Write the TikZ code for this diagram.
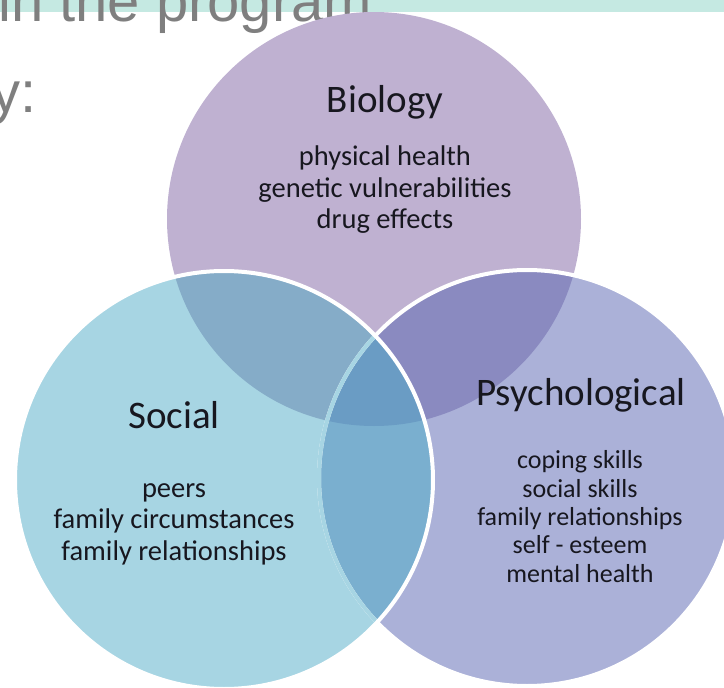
\documentclass[tikz,border=0pt]{standalone}
\usepackage{fontspec}
\setmainfont{Carlito}
\newfontfamily\slidefont{Liberation Sans}
\definecolor{bio}{HTML}{BFB1D1}
\definecolor{soc}{HTML}{A7D5E3}
\definecolor{psy}{HTML}{ABB1D8}
\definecolor{bs}{HTML}{85ACC8}
\definecolor{bp}{HTML}{8A8AC0}
\definecolor{sp}{HTML}{7AAFCF}
\definecolor{bsp}{HTML}{6A9CC4}
\definecolor{bar}{HTML}{C5E9E2}
\definecolor{slidegray}{HTML}{7F7F7F}
\definecolor{txt}{HTML}{17171F}
\begin{document}
\begin{tikzpicture}[x=1pt,y=-1pt,
  titletext/.style={anchor=base, inner sep=0pt, text=txt, font=\fontsize{39}{39}\selectfont},
  bodytext/.style={anchor=base, inner sep=0pt, text=txt, font=\fontsize{28.5}{28.5}\selectfont},
  psytext/.style={anchor=base, inner sep=0pt, text=txt, font=\fontsize{26}{26}\selectfont},
  slidetext/.style={inner sep=0pt, text=slidegray, font=\slidefont\fontsize{58}{58}\selectfont},
  rim/.style={draw=white, line width=4pt}]
\useasboundingbox (0,0) rectangle (724,688);
\fill[white] (0,0) rectangle (724,688);
% top bar
\fill[bar] (0,0) rectangle (724,12);
% slide text
\node[slidetext, anchor=base west] (line1) at (-2,21) {in the program};
\node[slidetext, anchor=base east] (line2) at (37,112) {y:};
% centres
\coordinate (B) at (374,219);
\coordinate (S) at (224,480);
\coordinate (P) at (527,478);
\def\rB{207pt}\def\rS{209pt}\def\rP{208pt}
% base fills
\fill[bio] (B) circle[radius=\rB];
\fill[psy] (P) circle[radius=\rP];
\fill[soc] (S) circle[radius=\rS];
% overlaps
\begin{scope}
  \clip (B) circle[radius=\rB];
  \fill[bs] (S) circle[radius=\rS];
  \fill[bp] (P) circle[radius=\rP];
\end{scope}
\begin{scope}
  \clip (S) circle[radius=\rS];
  \fill[sp] (P) circle[radius=\rP];
  \clip (B) circle[radius=\rB];
  \fill[bsp] (P) circle[radius=\rP];
\end{scope}
% psychological rim (seen through social)
\draw[rim] (P) circle[radius=\rP];
\begin{scope}
  \clip (S) circle[radius=\rS];
  \draw[draw=soc, line width=4pt] (P) circle[radius=\rP];
  \begin{scope}
    \clip (P) circle[radius=\rP];
  \end{scope}
\end{scope}
% social rim
\draw[rim] (S) circle[radius=\rS];
% Biology text
\node[titletext] (bioT) at (385,112) {Biology};
\node[bodytext] (bio1) at (385,165) {physical health};
\node[bodytext] (bio2) at (385,197) {genetic vulnerabilities};
\node[bodytext] (bio3) at (385,228) {drug effects};
% Social text
\node[titletext] (socT) at (174,428) {Social};
\node[bodytext] (soc1) at (174,497) {peers};
\node[bodytext] (soc2) at (174,528) {family circumstances};
\node[bodytext] (soc3) at (174,560) {family relationships};
% Psychological text
\node[titletext] (psyT) at (581,405) {Psychological};
\node[psytext] (psy1) at (580,468) {coping skills};
\node[psytext] (psy2) at (580,497) {social skills};
\node[psytext] (psy3) at (580,525) {family relationships};
\node[psytext] (psy4) at (580,553) {self - esteem};
\node[psytext] (psy5) at (580,582) {mental health};
\end{tikzpicture}
\end{document}
